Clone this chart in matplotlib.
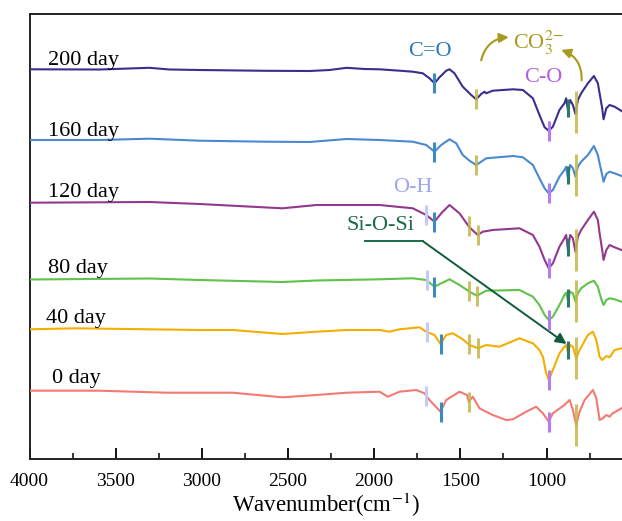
import numpy as np
import matplotlib
matplotlib.use("Agg")
import matplotlib.pyplot as plt

plt.rcParams['font.family'] = ['Liberation Serif', 'DejaVu Serif']
plt.rcParams['mathtext.fontset'] = 'stix'

# ---------------- data (stacked, arbitrary units) ----------------
days = ["200 day", "160 day", "120 day", "80 day", "40 day", "0 day"]
colors = ["#3a2f8c", "#4a88d0", "#93388f", "#5fc24a", "#f5ae00", "#f27a72"]

wn_200 = [4000, 3594, 3304, 3188, 3013, 2625, 2375, 2259, 2160, 2056, 1969, 1853, 1776, 1718,
          1679, 1650, 1621, 1582, 1563, 1534, 1486, 1437, 1408, 1379, 1360, 1350, 1312, 1195,
          1137, 1079, 1041, 1011, 987, 963, 925, 896, 886, 876, 863, 847, 832, 818, 799, 760,
          725, 702, 692, 677, 669, 653, 634, 605, 565]
t_200 = [389.7, 389.5, 391.2, 389.5, 389, 388.2, 388, 389, 391.2, 390, 389.7, 388.3, 387.3, 385.7,
         380.7, 375.7, 381.7, 388.3, 389.7, 385.7, 372.3, 364, 359.7, 365, 367.3, 365.7, 368.3, 369.7,
         369, 360.7, 344, 331.7, 328.3, 332.3, 349, 355.7, 360.7, 349, 359, 354, 345, 359, 365.7, 375.7,
         383, 375.7, 365.7, 350.7, 339.7, 350.7, 354, 352.3, 348]

wn_160 = [4000, 3594, 3304, 3013, 2625, 2375, 2160, 1969, 1776, 1698, 1650, 1611, 1563, 1524,
          1486, 1447, 1408, 1379, 1350, 1195, 1137, 1079, 1041, 1011, 987, 963, 925, 896, 886,
          876, 863, 847, 832, 818, 799, 760, 725, 702, 692, 677, 669, 653, 634, 605, 565]
t_160 = [319, 319, 320.3, 318.3, 317.3, 317, 320, 319, 317.3, 314, 307.3, 314, 319.7, 315.7,
         304, 298.3, 294, 297.3, 300.7, 303, 301.7, 294, 280.7, 270.7, 265.7, 269, 282.3, 289, 292.3,
         280.7, 294, 290.7, 282.3, 292.3, 297.3, 304, 313, 304, 295.7, 284, 277.3, 285, 287.3, 285.7, 283]

wn_120 = [4000, 3304, 3013, 2532, 2335, 1969, 1776, 1698, 1650, 1611, 1563, 1505, 1447, 1399,
          1370, 1312, 1157, 1079, 1041, 1011, 987, 963, 925, 896, 886, 876, 863, 847, 832, 818,
          799, 760, 725, 702, 692, 677, 669, 653, 634, 605, 565]
t_120 = [256.3, 257, 255, 250.7, 254, 254, 250.7, 244, 237.3, 245.7, 254, 245.7, 231.7, 224,
         227.3, 229, 230.7, 224, 212.3, 199, 190.7, 195.7, 212.3, 220.7, 224, 209, 224, 220.7, 207.3, 222.3,
         229, 239, 247.3, 239, 225.7, 209, 199, 209, 214, 211.7, 209]

wn_80 = [4000, 3304, 3013, 2532, 2335, 1969, 1776, 1698, 1650, 1611, 1563, 1505, 1447, 1404,
         1350, 1157, 1079, 1041, 1011, 987, 963, 925, 896, 886, 876, 863, 847, 832, 818, 799,
         760, 725, 702, 692, 677, 669, 653, 634, 605, 565]
t_80 = [179.5, 180.5, 179, 177, 178.5, 179.7, 180.7, 179, 172.3, 175.7, 179.7, 174, 167.3, 163.3,
        168.3, 169, 162.3, 154, 144, 139, 142.3, 154, 164, 166.3, 159, 167.3, 165.7, 157.3, 165.7, 170.7,
        175.7, 178.3, 172.3, 165.7, 157.3, 154, 159, 160.7, 159.7, 157.3]

wn_40 = [4000, 3727, 3013, 2822, 2532, 2335, 2160, 1969, 1911, 1853, 1737, 1698, 1650, 1615,
         1582, 1544, 1486, 1447, 1396, 1350, 1273, 1157, 1079, 1041, 1021, 1002, 987, 963, 925,
         896, 886, 876, 863, 847, 828, 808, 760, 731, 711, 692, 677, 653, 634, 605, 565]
t_40 = [129.7, 130.7, 129, 129, 125, 127.3, 129, 129, 127.3, 129.7, 131.7, 127.3, 124, 115,
        124, 125.7, 119.7, 114, 110.7, 114, 112.3, 120.7, 115.7, 109, 102.3, 85.7, 79, 89, 105.7,
        112.3, 114, 107.3, 114, 112.3, 100.7, 109, 124, 127.3, 119, 102.3, 99, 103, 101.7, 109, 110.7]

wn_0 = [4000, 3594, 3205, 2822, 2532, 2335, 2160, 1969, 1921, 1853, 1756, 1708, 1679, 1615,
        1582, 1505, 1462, 1451, 1428, 1389, 1312, 1234, 1195, 1118, 1060, 1041, 1021, 987, 963,
        896, 866, 847, 828, 808, 779, 731, 711, 692, 673, 653, 634, 616, 565]
t_0 = [68.3, 68.3, 66.3, 66.3, 61.7, 64, 66.3, 67.3, 62.3, 67.3, 69, 65.7, 59, 47.3,
       59, 67.3, 64, 57.3, 62.3, 50.7, 44, 39, 39.7, 47.3, 52.3, 49, 45.7, 37.3, 45.7,
       54, 59, 49, 34, 47.3, 59, 69, 60.7, 39, 40.7, 44, 42.3, 45.7, 50.7]

wavenumbers = [wn_200, wn_160, wn_120, wn_80, wn_40, wn_0]
spectra = [t_200, t_160, t_120, t_80, t_40, t_0]

# band markers per spectrum: (wavenumber, kind)
bands_200 = [(1650, "CO"), (1408, "CO3"), (987, "C-O"), (873, "Si"), (830, "CO3L")]
bands_160 = [(1650, "CO"), (1408, "CO3"), (987, "C-O"), (873, "Si"), (830, "CO3L")]
bands_120 = [(1698, "OH"), (1650, "CO"), (1451, "CO3"), (1399, "CO3"), (987, "C-O"), (873, "Si"), (830, "CO3L")]
bands_80 = [(1695, "OH"), (1650, "CO"), (1451, "CO3"), (1404, "CO3"), (987, "C-O"), (873, "Si"), (830, "CO3L")]
bands_40 = [(1695, "OH"), (1615, "CO"), (1451, "CO3"), (1396, "CO3"), (987, "C-O"), (873, "Si"), (828, "CO3L")]
bands_0 = [(1698, "OH"), (1615, "CO"), (1451, "CO3"), (987, "C-O"), (828, "CO3L")]
bands = [bands_200, bands_160, bands_120, bands_80, bands_40, bands_0]

# ---------------- styles ----------------
band_style = {
    "OH":   ("#c5c8f8", 20, 1.0),
    "CO":   ("#3a8cc0", 20, 1.0),
    "CO3":  ("#c4b84a", 20, 0.85),
    "CO3L": ("#c4b84a", 42, 0.85),
    "C-O":  ("#b67cf0", 20, 1.0),
    "Si":   ("#2d7a6a", 18, 1.0),
}

W, H = 622, 521
fig = plt.figure(figsize=(W / 100, H / 100), dpi=100)
left_px, top_px, bottom_px = 29.5, 14, 459
ax = fig.add_axes([left_px / W, (H - bottom_px) / H, (W - left_px) / W, (bottom_px - top_px) / H])

for wn, t, c in zip(wavenumbers, spectra, colors):
    ax.plot(wn, t, color=c, lw=1.5, solid_joinstyle='round', zorder=3)

for wn, t, bl in zip(wavenumbers, spectra, bands):
    order = np.argsort(wn)
    xs = np.array(wn)[order]
    ys = np.array(t)[order]
    for b, kind in bl:
        col, length, a = band_style[kind]
        yc = np.interp(b, xs, ys)
        ax.plot([b, b], [yc - length / 2, yc + length / 2], color=col, lw=2.2,
                alpha=a, zorder=4, solid_capstyle='butt')

label_pos = [(3890, 394), (3890, 323), (3890, 262), (3890, 186), (3905, 136), (3870, 76)]
for (lx, ly), d in zip(label_pos, days):
    ax.text(lx, ly, d, fontsize=16, ha='left', va='baseline', color='black')

ax.set_xlim(4000, 562)
ax.set_ylim(0, 445)
ax.set_xticks([4000, 3500, 3000, 2500, 2000, 1500, 1000])
ax.set_xticks(np.arange(3750, 560, -500), minor=True)
ax.tick_params(axis='x', which='major', direction='in', length=8, width=1.3, labelsize=14, pad=10)
ax.tick_params(axis='x', which='minor', direction='in', length=4.5, width=1.1)
ax.set_yticks([])
ax.spines['right'].set_visible(False)
for s in ['left', 'bottom', 'top']:
    ax.spines[s].set_linewidth(1.4)
    ax.spines[s].set_color('#222222')
ax.set_xlabel(r"Wavenumber(cm$^{-1}$)", fontsize=16.5, labelpad=1)

# annotations
ax.text(1679, 407, "C=O", color="#2a7ab5", fontsize=16, ha='center', va='center')
ax.text(1197, 416, r"CO$_3^{2\mathrm{-}}$", color="#a89a1e", fontsize=16, ha='left', va='center')
ax.annotate("", xy=(1203, 422), xytext=(1383, 396),
            arrowprops=dict(arrowstyle="-|>", color="#a89a1e", lw=1.5,
                            connectionstyle="arc3,rad=-0.4", mutation_scale=14))
ax.annotate("", xy=(930, 410), xytext=(797, 376),
            arrowprops=dict(arrowstyle="-|>", color="#a89a1e", lw=1.5,
                            connectionstyle="arc3,rad=0.4", mutation_scale=14))
ax.text(1017, 381, "C-O", color="#b35ee8", fontsize=16, ha='center', va='center')
ax.text(1777, 271, "O-H", color="#9fa6f0", fontsize=16, ha='center', va='center')
ax.text(2160, 234, "Si-O-Si", color="#1b6b45", fontsize=16, ha='left', va='center')
ax.plot([2056, 1719], [218, 218], color="#1b6b45", lw=1.4, zorder=5)
ax.annotate("", xy=(884, 115), xytext=(1719, 218),
            arrowprops=dict(arrowstyle="-|>", color="#0f5c3a", lw=1.4,
                            shrinkA=0, shrinkB=0, mutation_scale=16))

fig.savefig("out.png", dpi=100)
